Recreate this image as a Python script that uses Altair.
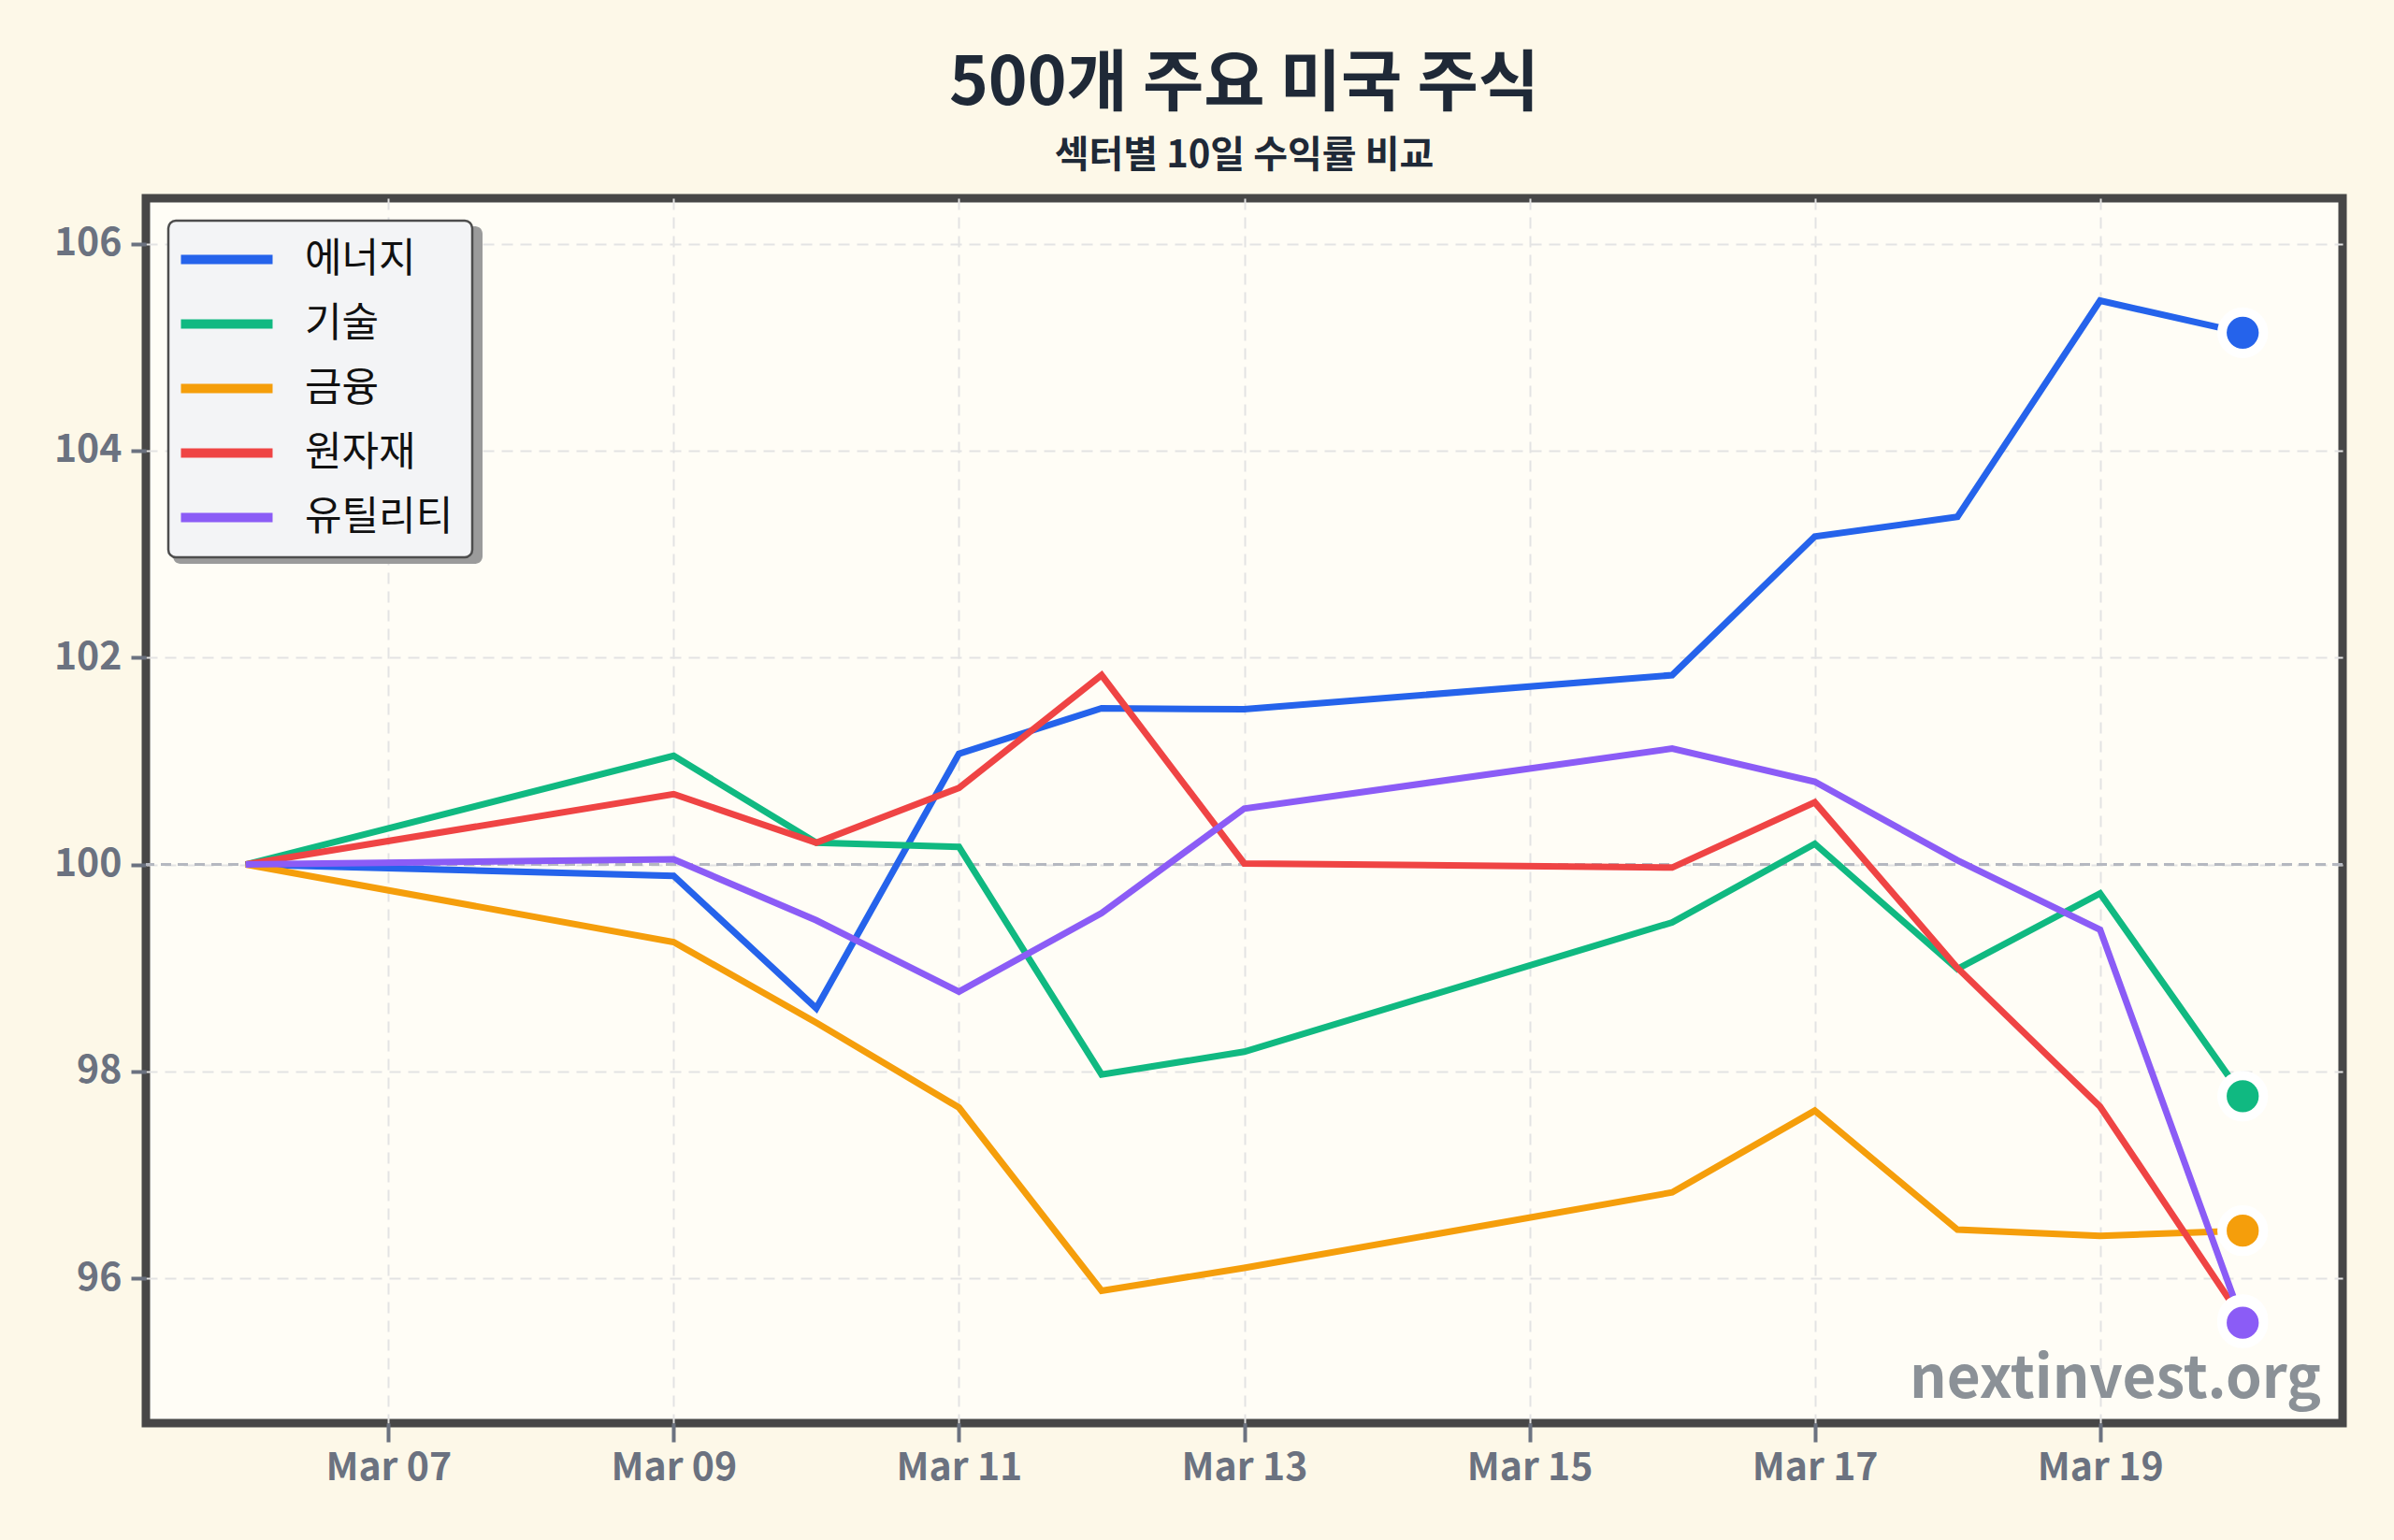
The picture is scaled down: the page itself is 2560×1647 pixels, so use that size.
import altair as alt
import pandas as pd

# Trading days covered by the comparison
dates = [
    "2026-03-06", "2026-03-09", "2026-03-10", "2026-03-11", "2026-03-12",
    "2026-03-13", "2026-03-16", "2026-03-17", "2026-03-18", "2026-03-19",
    "2026-03-20",
]

sectors = ["에너지", "기술", "금융", "원자재", "유틸리티"]
colors = ["#2563eb", "#10b981", "#f59e0b", "#ef4444", "#8b5cf6"]

# Indexed performance (start = 100)
energy = [100, 99.89, 98.61, 101.07, 101.51, 101.50, 101.83, 103.17, 103.36, 105.45, 105.14]
tech = [100, 101.05, 100.21, 100.17, 97.97, 98.19, 99.44, 100.20, 98.99, 99.72, 97.76]
finance = [100, 99.25, 98.47, 97.65, 95.88, 96.10, 96.83, 97.62, 96.47, 96.41, 96.46]
materials = [100, 100.68, 100.21, 100.74, 101.83, 100.01, 99.97, 100.60, 99.00, 97.66, 95.60]
utilities = [100, 100.05, 99.46, 98.77, 99.53, 100.54, 101.12, 100.80, 100.04, 99.37, 95.57]

y_ticks = [96, 98, 100, 102, 104, 106]
x_tick_days = [7, 9, 11, 13, 15, 17, 19]

series = [energy, tech, finance, materials, utilities]
rows = []
for name, vals in zip(sectors, series):
    for d, v in zip(dates, vals):
        rows.append({"date": d, "sector": name, "value": v})
df = pd.DataFrame(rows)
last = df[df["date"] == dates[-1]]

FONT = "Noto Sans CJK KR"
W, H = 2349, 1310


def utc_day(day, hours=0, minutes=0):
    return alt.DateTime(year=2026, month=3, date=day, hours=hours, minutes=minutes, utc=True)


x_scale = alt.Scale(type="utc", domain=[utc_day(5, 7, 12), utc_day(20, 16, 48)])
x_axis = alt.Axis(
    values=[utc_day(d) for d in x_tick_days],
    labelExpr="utcFormat(datum.value, '%b %d')",
    title=None,
    tickSize=20,
    labelPadding=8,
)
y_scale = alt.Scale(domain=[94.6, 106.44], nice=False, zero=False)
y_axis = alt.Axis(values=y_ticks, format="d", title=None, tickSize=16, labelPadding=10)

# soft drop shadow behind the legend box
shadow = alt.Chart(pd.DataFrame({"s": [0]})).mark_rect(
    color="#9b9b9b", cornerRadius=8
).encode(x=alt.value(29), x2=alt.value(360), y=alt.value(30), y2=alt.value(391))

baseline = alt.Chart(pd.DataFrame({"v": [100]})).mark_rule(
    color="#b5b8c0", strokeWidth=3, strokeDash=[11, 7]
).encode(y=alt.Y("v:Q", scale=y_scale, axis=y_axis))

lines = alt.Chart(df).mark_line(strokeWidth=7).encode(
    x=alt.X("date:T", scale=x_scale, axis=x_axis),
    y=alt.Y("value:Q", scale=y_scale, axis=y_axis),
    color=alt.Color(
        "sector:N",
        scale=alt.Scale(domain=sectors, range=colors),
        legend=alt.Legend(
            title=None,
            orient="top-left",
            offset=24,
            fillColor="#f3f4f6",
            strokeColor="#4d4d4d",
            cornerRadius=8,
            padding=20,
            rowPadding=25,
            symbolType="M-3,0H3",
            symbolSize=1067,
            symbolStrokeWidth=10,
            symbolOffset=21,
            labelOffset=62,
            labelFont=FONT,
            labelFontSize=43,
            labelColor="#111111",
            labelLimit=400,
        ),
    ),
)

dots = alt.Chart(last).mark_circle(size=1963, opacity=1, stroke="white", strokeWidth=10).encode(
    x=alt.X("date:T", scale=x_scale, axis=x_axis),
    y=alt.Y("value:Q", scale=y_scale, axis=y_axis),
    fill=alt.Fill("sector:N", scale=alt.Scale(domain=sectors, range=colors), legend=None),
)

watermark = alt.Chart(pd.DataFrame({"t": ["nextinvest.org"]})).mark_text(
    font=FONT, fontSize=62, fontWeight="bold", color="#8b9197", align="right", baseline="alphabetic"
).encode(text="t:N", x=alt.value(W - 23), y=alt.value(1283))

chart = (
    alt.layer(shadow, baseline, lines, dots, watermark)
    .properties(
        width=W,
        height=H,
        autosize=alt.AutoSizeParams(type="none"),
        padding={"left": 156, "top": 212, "right": 55, "bottom": 125},
        title=alt.TitleParams(
            text="500개 주요 미국 주식",
            subtitle="섹터별 10일 수익률 비교",
            anchor="middle",
            font=FONT,
            subtitleFont=FONT,
            fontSize=71,
            subtitleFontSize=40,
            fontWeight="bold",
            subtitleFontWeight="bold",
            color="#1f2937",
            subtitleColor="#1f2937",
            offset=24,
            subtitlePadding=20,
        ),
    )
    .configure(background="#fdf8e8")
    .configure_view(fill="#fffdf6", stroke="#474747", strokeWidth=9)
    .configure_axis(
        labelFont=FONT,
        labelFontSize=41,
        labelFontWeight="bold",
        labelColor="#6b7280",
        tickColor="#6b7280",
        tickWidth=4,
        domain=False,
        grid=True,
        gridColor="#e3e3e3",
        gridDash=[12, 8],
        gridWidth=2,
    )
    .configure_legend(strokeWidth=2.5)
)

chart.save("out.html", embed_options={"renderer": "svg", "actions": False})
